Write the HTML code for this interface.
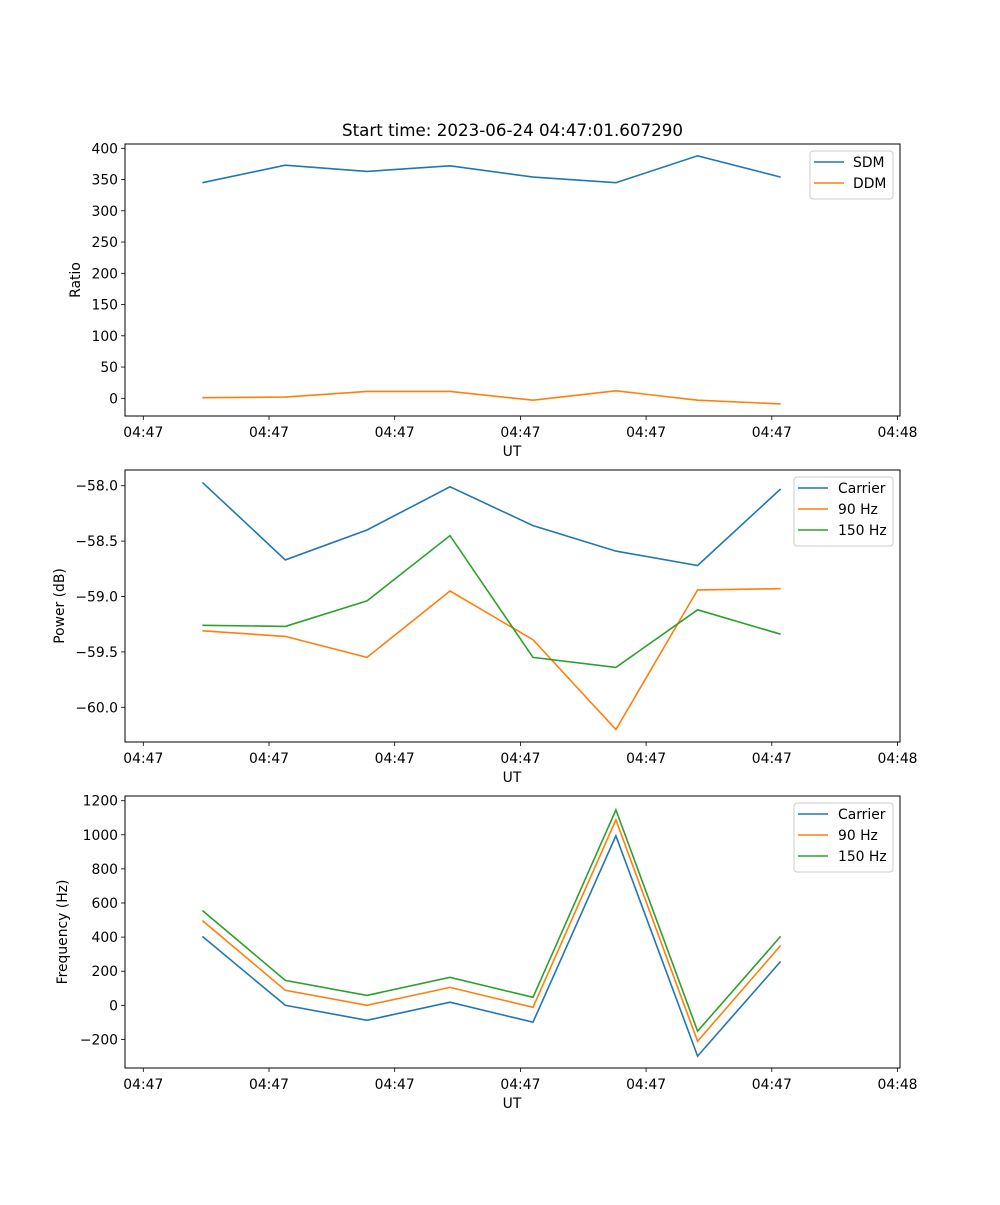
<!DOCTYPE html>
<html><head><meta charset="utf-8"><style>
body{margin:0;background:#fff}
svg text{font-family:"DejaVu Sans","Liberation Sans",sans-serif;fill:#000}
</style></head><body>
<svg id="fig" width="1000" height="1200" viewBox="0 0 1000 1200" xmlns="http://www.w3.org/2000/svg">
<rect width="1000" height="1200" fill="#fff"/>
<text x="512.5" y="136" font-size="16.7" text-anchor="middle">Start time: 2023-06-24 04:47:01.607290</text>
</svg>
<script>
const xTimes=[0.47,1.13,1.78,2.44,3.10,3.76,4.41,5.07];
const xTickLabels=["04:47","04:47","04:47","04:47","04:47","04:47","04:48"];
const sdm=[345,373,363,372,354,345,388,354];
const ddm=[1,2,11,11,-3,12,-3,-9];
const pCarrier=[-57.97,-58.67,-58.40,-58.01,-58.36,-58.59,-58.72,-58.03];
const p90=[-59.31,-59.36,-59.55,-58.95,-59.39,-60.20,-58.94,-58.93];
const p150=[-59.26,-59.27,-59.04,-58.45,-59.55,-59.64,-59.12,-59.34];
const fCarrier=[404,0,-88,18,-99,994,-298,257];
const f90=[497,88,0,105,-12,1088,-211,351];
const f150=[556,146,58,164,47,1146,-152,404];
const ratioTicks=[0,50,100,150,200,250,300,350,400];
const powerTicks=[-60.0,-59.5,-59.0,-58.5,-58.0];
const freqTicks=[-200,0,200,400,600,800,1000,1200];

const NS="http://www.w3.org/2000/svg";
const svg=document.getElementById('fig');
function el(tag,attrs,parent){const e=document.createElementNS(NS,tag);for(const k in attrs)e.setAttribute(k,attrs[k]);(parent||svg).appendChild(e);return e;}
const X0=125,X1=900;
function xs(t){return 143.3+t*125.7;}
const C={blue:"#1f77b4",orange:"#ff7f0e",green:"#2ca02c"};
const FS=13.9;

function panel(name,top,bottom,ys,ticks,fmt,ylabel,series,legend){
  const g=el('g',{});
  
  
  ticks.forEach(v=>{const y=ys(v);
    el('line',{x1:X0-4,x2:X0,y1:y,y2:y,stroke:'#000','stroke-width':0.8},g);
    const t=el('text',{x:X0-7,y:y+5,'font-size':FS,'text-anchor':'end'},g);
    
    
    t.textContent=fmt(v);});
  xTickLabels.forEach((l,i)=>{const x=xs(i);
    el('line',{x1:x,x2:x,y1:bottom,y2:bottom+4,stroke:'#000','stroke-width':0.8},g);
    const t=el('text',{x:x,y:bottom+21,'font-size':FS,'text-anchor':'middle'},g);
    
    
    t.textContent=l;});
  const xl=el('text',{x:512,y:bottom+40,'font-size':FS,'text-anchor':'middle'},g);
  
  
  xl.textContent='UT';
  const cy=(top+bottom)/2;
  const yl=el('text',{x:0,y:0,'font-size':FS,'text-anchor':'middle',transform:`translate(${ylabel[1]},${cy}) rotate(-90)`},g);
  
  
  yl.textContent=ylabel[0];
  series.forEach(s=>{
    const pts=xTimes.map((t,i)=>xs(t).toFixed(1)+','+ys(s.d[i]).toFixed(1)).join(' ');
    const p=el('polyline',{points:pts,fill:'none',stroke:s.c,'stroke-width':1.6},g);
    
    
  });
  el('rect',{x:X0,y:top,width:X1-X0,height:bottom-top,fill:'none',stroke:'#000','stroke-width':1},g);
  const lg=el('g',{},g);
  
  
  el('rect',{x:legend.x,y:top+7,width:X1-7-legend.x,height:series.length*21+6,rx:3,fill:'#fff',stroke:'#ccc','stroke-width':1},lg);
  series.forEach((s,i)=>{const y=top+18+i*21;
    el('line',{x1:legend.x+4,x2:legend.x+34,y1:y,y2:y,stroke:s.c,'stroke-width':1.6},lg);
    const t=el('text',{x:legend.tx,y:y+5,'font-size':FS},lg);
    
    
    t.textContent=s.n;});
}
panel('ratio',144,416,v=>398.3-v*0.625,ratioTicks,v=>String(v),['Ratio',80],
  [{n:'SDM',d:sdm,c:C.blue},{n:'DDM',d:ddm,c:C.orange}],{x:810,tx:853});
panel('power',470,742,v=>485.7-(v+58)*110.8,powerTicks,v=>v.toFixed(1).replace('-','\u2212'),['Power (dB)',64],
  [{n:'Carrier',d:pCarrier,c:C.blue},{n:'90 Hz',d:p90,c:C.orange},{n:'150 Hz',d:p150,c:C.green}],{x:794,tx:838});
panel('frequency',796,1068,v=>1005.3-v*0.1705,freqTicks,v=>String(v).replace('-','\u2212'),['Frequency (Hz)',67],
  [{n:'Carrier',d:fCarrier,c:C.blue},{n:'90 Hz',d:f90,c:C.orange},{n:'150 Hz',d:f150,c:C.green}],{x:794,tx:838});
</script>
</body></html>
